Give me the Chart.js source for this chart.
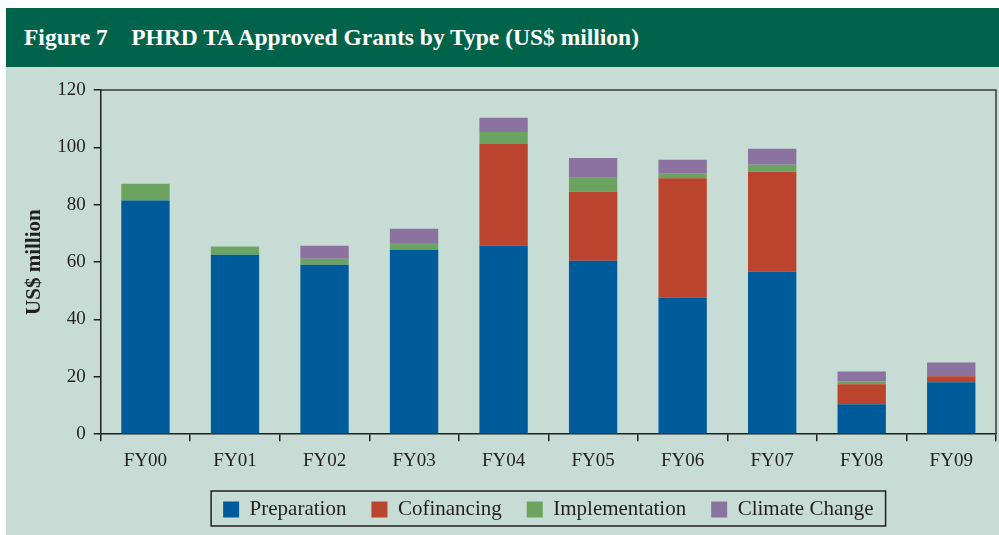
<!DOCTYPE html>
<html>
<head>
<meta charset="utf-8">
<script src="https://cdn.jsdelivr.net/npm/chart.js@4"></script>
<style>
	html, body { margin: 0; padding: 0; background: #fff; }
	body { width: 999px; height: 535px; position: relative; overflow: hidden; }
	#header {
		position: absolute; left: 6px; top: 8px; width: 993px; height: 59px;
		background: #00634a; color: #fff;
		font-family: "Liberation Serif", "DejaVu Serif", serif; font-weight: bold; font-size: 23.5px;
		line-height: 59px; white-space: pre; box-sizing: border-box; padding-left: 18px;
	}
	#panel { position: absolute; left: 6px; top: 67px; width: 993px; height: 468px; background: #c7dcd5; }
</style>
</head>
<body>
<div id="header">Figure 7    PHRD TA Approved Grants by Type (US$ million)</div>
<div id="panel"><canvas id="chart" width="993" height="468"></canvas></div>
<script>
// Data
const categories = ['FY00', 'FY01', 'FY02', 'FY03', 'FY04', 'FY05', 'FY06', 'FY07', 'FY08', 'FY09'];
const preparation = [81.5, 62.6, 59.1, 64.3, 65.7, 60.5, 47.7, 56.7, 10.4, 18.1];
const cofinancing = [0, 0, 0, 0, 35.5, 24.0, 41.5, 34.8, 7.0, 2.1];
const implementation = [5.8, 2.8, 2.1, 2.4, 4.2, 4.9, 1.6, 2.4, 1.0, 0];
const climateChange = [0, 0, 4.5, 4.9, 4.9, 6.9, 4.9, 5.6, 3.5, 4.8];
const yTicks = [0, 20, 40, 60, 80, 100, 120];

const FONT = '"Liberation Serif", "DejaVu Serif", serif';
const INK = '#231f20';

// frame around plot area and box around the legend
const framePlugin = {
	id: 'frame',
	afterDraw(chart) {
		const ctx = chart.ctx;
		const a = chart.chartArea;
		ctx.save();
		ctx.strokeStyle = '#3a3a3a';
		ctx.lineWidth = 1.5;
		ctx.beginPath();
		ctx.moveTo(a.left, a.top);
		ctx.lineTo(a.right, a.top);
		ctx.lineTo(a.right, a.bottom);
		ctx.stroke();

		const boxes = chart.legend.legendHitBoxes;
		if (boxes && boxes.length) {
			const l = Math.min(...boxes.map(b => b.left)) - 12;
			const r = Math.max(...boxes.map(b => b.left + b.width)) + 12;
			const t = Math.min(...boxes.map(b => b.top)) - 8;
			const bt = Math.max(...boxes.map(b => b.top + b.height)) + 6;
			ctx.strokeStyle = INK;
			ctx.lineWidth = 1.5;
			ctx.strokeRect(l, t, r - l, bt - t);
		}
		ctx.restore();
	}
};

new Chart(document.getElementById('chart'), {
	type: 'bar',
	data: {
		labels: categories,
		datasets: [
			{ label: 'Preparation', data: preparation, backgroundColor: '#005b9a' },
			{ label: 'Cofinancing', data: cofinancing, backgroundColor: '#bb442f' },
			{ label: 'Implementation', data: implementation, backgroundColor: '#6ba460' },
			{ label: 'Climate Change', data: climateChange, backgroundColor: '#8c729e' }
		]
	},
	options: {
		responsive: false,
		animation: false,
		events: [],
		datasets: { bar: { categoryPercentage: 1, barPercentage: 0.54 } },
		layout: { padding: { top: 23, right: 3, left: 16, bottom: 5 } },
		plugins: {
			tooltip: { enabled: false },
			legend: {
				position: 'bottom',
				fullSize: false,
				labels: {
					boxWidth: 16, boxHeight: 16, padding: 25, color: INK,
					font: { family: FONT, size: 21 }
				}
			}
		},
		scales: {
			x: {
				stacked: true,
				afterFit(axis) { axis.height -= 6; },
				border: { display: true, color: INK, width: 1.5 },
				grid: { drawOnChartArea: false, drawTicks: true, tickLength: 7, color: INK, lineWidth: 1.5 },
				ticks: { color: INK, padding: 8, font: { family: FONT, size: 19 } }
			},
			y: {
				stacked: true,
				min: 0, max: 120,
				afterBuildTicks(axis) { axis.ticks = yTicks.map(v => ({ value: v })); },
				border: { display: true, color: INK, width: 1.5 },
				grid: { drawOnChartArea: false, drawTicks: true, tickLength: 7, color: INK, lineWidth: 1.5 },
				ticks: { color: INK, padding: 8, font: { family: FONT, size: 19 } },
				title: {
					display: true, text: 'US$ million', color: INK, padding: { top: 0, bottom: 2 },
					font: { family: FONT, size: 21, weight: 'bold' }
				}
			}
		}
	},
	plugins: [framePlugin]
});
</script>
</body>
</html>
